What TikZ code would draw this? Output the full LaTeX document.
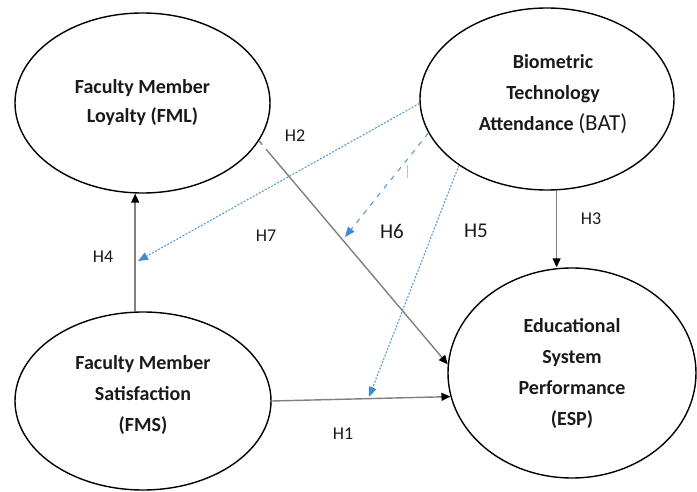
\documentclass[tikz,border=0pt]{standalone}
\usepackage{fontspec}
\setmainfont{Carlito}
\usetikzlibrary{shapes.geometric,arrows.meta}
\definecolor{lineGray}{HTML}{808080}
\definecolor{hypBlue}{HTML}{5B9BD5}
\definecolor{tipBlue}{HTML}{3F8BD6}
\definecolor{txtDark}{HTML}{1A1A1A}
\begin{document}
\begin{tikzpicture}[x=1pt,y=-1pt,
  construct/.style={ellipse, draw=black, line width=1.4pt, inner sep=0pt,
    align=center, text=txtDark, font=\bfseries\fontsize{20pt}{31pt}\selectfont},
  direct/.style={draw=lineGray, line width=1.4pt,
    -{Triangle[length=9pt,width=8pt,color=black]}},
  moder/.style={draw=hypBlue, line width=1.1pt,
    -{Triangle[length=10pt,width=8pt,color=tipBlue]}},
  hlabel/.style={text=txtDark, font=\fontsize{18pt}{20pt}\selectfont, inner sep=0pt},
  hlabelbig/.style={text=txtDark, font=\fontsize{21pt}{23pt}\selectfont, inner sep=0pt}
]
\useasboundingbox (0,0) rectangle (697,492);

% constructs
\node[construct, minimum width=255pt, minimum height=180pt] (FML) at (142.5,103)
  {Faculty Member\\[-2pt]Loyalty (FML)};
\node[construct, minimum width=254pt, minimum height=182pt] (BAT) at (547,99) {};
\node[text=txtDark, font=\bfseries\fontsize{20pt}{31pt}\selectfont, align=center, inner sep=0pt] (BATtxt) at (553,94)
  {Biometric\\Technology\\Attendance {\mdseries\fontsize{23pt}{31pt}\selectfont(BAT)}};
\node[construct, minimum width=256pt, minimum height=178pt] (FMS) at (143,401) {};
\node[text=txtDark, font=\bfseries\fontsize{20pt}{31pt}\selectfont, align=center, inner sep=0pt] (FMStxt) at (143,395)
  {Faculty Member\\Satisfaction\\(FMS)};
\node[construct, minimum width=248pt, minimum height=210pt] (ESP) at (572,373)
  {Educational\\System\\Performance\\(ESP)};

% direct paths
\draw[direct] (FMS.95) -- (FMS.95 |- FML.south);
\draw[direct] (BAT.276) -- (BAT.276 |- ESP.north);
\draw[direct] (FMS.east) -- (ESP.191);
\draw[direct, dash pattern=on 5pt off 6pt on 600pt] (FML.-18) -- (ESP.176);

% moderating paths
\coordinate (h7end) at (138,261);
\coordinate (h6end) at (345,237);
\coordinate (h5end) at (369,397);
\draw[moder, dash pattern=on 2pt off 1.5pt] (BAT.182.7) -- (h7end);
\draw[moder, dash pattern=on 5pt off 6pt] (BAT.196) -- (h6end);
\draw[moder, dash pattern=on 2pt off 1.5pt] (BAT.217) -- (h5end);

% small tick
\draw[lineGray!50, line width=1pt] (407,165) -- (407,178);

% labels
\node[hlabel] (H1) at (343,434) {H1};
\node[hlabel] (H2) at (295,136) {H2};
\node[hlabel] (H3) at (591,219) {H3};
\node[hlabel] (H4) at (103,257) {H4};
\node[hlabelbig] (H5) at (476,231) {H5};
\node[hlabelbig] (H6) at (392,231) {H6};
\node[hlabel] (H7) at (266,236) {H7};
\end{tikzpicture}
\end{document}
